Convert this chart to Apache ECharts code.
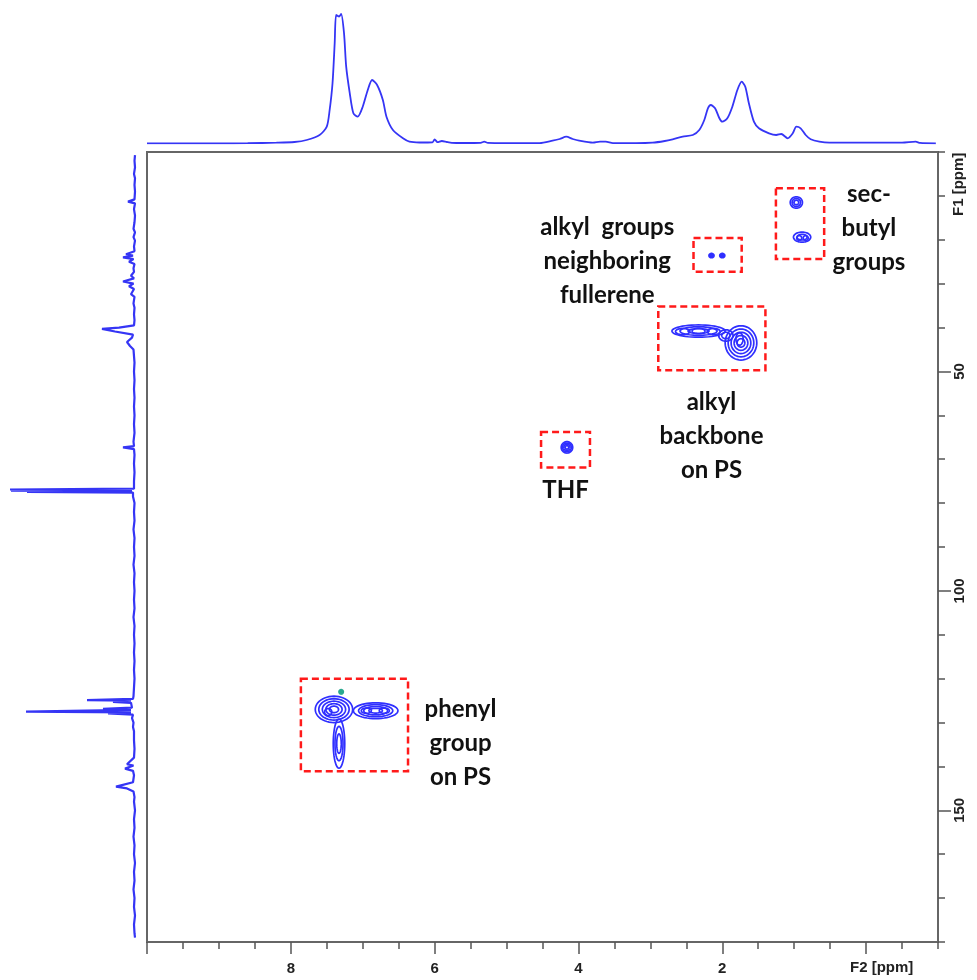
<!DOCTYPE html>
<html><head><meta charset="utf-8">
<script src="https://cdn.jsdelivr.net/npm/echarts@6/dist/echarts.min.js"></script>
<style>html,body{margin:0;padding:0;background:#fff}#c{width:977px;height:980px}</style>
</head><body><div id="c"></div>
<script>
// ---- 1H projection (top): [ppm, intensity]
const topProjection = [
 [10.0,0.2],[9.5,0.2],[9.0,0.2],[8.6,0.3],[8.2,0.8],[7.95,1.5],[7.78,3.5],[7.6,8.5],[7.5,16.8],[7.46,33.5],
 [7.42,60.2],[7.39,100.2],[7.37,128.5],[7.33,127],[7.30,129.5],[7.26,110.2],[7.23,76.8],[7.18,50.2],[7.13,30.2],[7.07,26.8],
 [7.00,36.8],[6.93,53.5],[6.87,63.5],[6.80,58.5],[6.72,43.5],[6.67,26.8],[6.58,13.5],[6.44,5.2],[6.35,1.8],[6.21,1.0],
 [6.03,1.2],[6.00,4.2],[5.96,1.3],[5.90,2.5],[5.83,1.5],[5.76,0.7],[5.6,0.5],[5.36,0.7],[5.31,1.8],[5.26,0.6],
 [5.0,0.4],[4.54,0.4],[4.36,2.8],[4.26,4.5],[4.17,6.8],[4.08,4.5],[3.99,2.8],[3.80,0.8],[3.70,1.8],[3.62,1.8],
 [3.52,0.3],[3.2,0.3],[2.97,0.8],[2.80,2.5],[2.69,4.2],[2.55,6.8],[2.41,8.5],[2.32,13.5],[2.25,23.5],[2.20,35.2],
 [2.16,38.5],[2.10,35.2],[2.04,25.2],[2.00,21.8],[1.93,25.2],[1.86,36.8],[1.79,53.5],[1.73,61.8],[1.68,56.8],[1.63,40.2],
 [1.56,21.8],[1.49,15.2],[1.35,10.2],[1.25,8.5],[1.18,9.5],[1.09,5.2],[1.02,10.2],[0.97,16.8],[0.91,15.2],[0.84,8.5],
 [0.77,4.2],[0.65,1.8],[0.51,0.8],[0.0,0.8],[-0.5,0.8],[-0.69,1.8],[-0.75,0.6],[-0.97,0.2]
];
// ---- 13C projection (left): [ppm, intensity]
const leftProjection = [
 [0.7,0],[2,0.5],[3.5,0],[5,1],[6,0],[7.5,0.5],[9,0],[10.8,0.5],[11.3,7],[11.7,0],[13,1],[14.5,0],[16,0.5],[17.5,1.5],[18.3,0],
 [19.4,1.5],[20.2,0],[21.5,1],[22.6,0.5],[23.3,9],[23.6,2],[24.0,12],[24.4,1.5],[25.0,6],[25.5,0.5],[26.5,1.5],[27.3,1],[28.2,4],
 [28.8,1],[29.5,12],[30,1.5],[30.6,6],[31.2,1],[32.4,4],[33,0.5],[34.5,1.5],[35.5,0.5],[37,1],[38.3,0.5],[39.5,1],[40.0,16],
 [40.3,33],[40.7,33],[40.9,20],[41.3,20],[41.6,2],[42.3,3],[43.3,8],[44.2,5],[45,1.5],[46.5,1],[48,0.5],[50,1],[52,0.5],
 [54,1],[56,0.5],[58,1],[60,0.5],[62,1],[64,0.5],[66,1.5],[67.0,1],[67.3,12],[67.7,1],[69,0.5],[71,1],[73,0.5],[75,1],[76.7,1],
 [76.9,125],[77.0,3],[77.15,124],[77.25,3],[77.45,108],[77.6,2],[78.5,2],[80,0.5],[82,1],[84,0.5],[86,1.5],[88,0.5],[90,1],
 [92,0.5],[94,1.5],[96,0.5],[98,1],[100,0.5],[102,1],[104,0.5],[106,1.5],[108,0.5],[110,1],[112,0.5],[114,1],[116,0.5],[118,1],[120,0.5],
 [122,1],[124,1.5],[124.6,2],[124.9,48],[125.0,4],[125.3,22],[125.5,4],[126.6,3],[126.9,32],[127.1,4],[127.5,109],
 [127.7,4],[127.9,27],[128.2,2],[129,3],[130,1.5],[131,2],[132,1],[134,1],[136,0.5],[138,1],[139.5,8],[139.8,1.5],[140.5,10],
 [141,2],[142,1],[143.6,2],[144.3,14],[144.6,19],[145.0,8],[145.7,1.5],[147,0.5],[148,1],[150,0],[152,1],[154,0.5],[156,1.5],
 [158,0.5],[160,1],[162,0],[164,1],[166,0.5],[168,1.5],[170,0.5],[172,1],[174,0],[176,1],[178,0.5],[179,0]
];
// ---- 2D cross peaks: [F2 ppm, F1 ppm, half-width F2 (ppm), half-width F1 (ppm), contour levels, filled]
const crossPeaks = [
 [0.97,11.5,0.085,1.3,3,0],
 [0.89,19.4,0.12,1.15,2,0],[0.93,19.6,0.035,0.55,1,0],[0.84,19.6,0.035,0.55,1,0],
 [2.15,23.6,0.035,0.5,1,1],[2.00,23.6,0.035,0.5,1,1],
 [4.16,67.3,0.08,1.3,4,0],
 [1.74,43.5,0.22,3.9,5,0],[1.76,42.6,0.05,1.4,1,0],
 [2.33,40.8,0.37,1.4,3,0],[2.55,40.9,0.1,0.7,1,0],[2.33,40.8,0.09,0.6,1,0],[2.12,40.9,0.09,0.7,1,0],[1.95,41.8,0.1,1.3,2,0],
 [7.40,127.0,0.26,3.0,5,0],[6.82,127.3,0.31,1.8,4,0],[7.33,134.8,0.08,5.6,3,0],
 [6.95,127.3,0.07,0.6,1,0],[6.70,127.3,0.07,0.6,1,0],[7.48,127.6,0.05,0.8,1,0]
];
const minorPeaks = [[7.30,123.0,0.03,0.5,1,1]];
// ---- annotation boxes: [F2 from, F2 to, F1 from, F1 to]
const regionBoxes = [
 [1.254,0.583,8.25,24.4],
 [2.40,1.73,19.6,27.3],
 [2.89,1.40,35.2,49.7],
 [4.52,3.84,63.8,71.9],
 [7.86,6.37,120.0,141.1]
];
// ---- annotation labels: [F2 ppm, F1 ppm, text]
const annotations = [
 [-0.04,17.3,'sec-\nbutyl\ngroups'],
 [3.60,25.0,'alkyl  groups\nneighboring\nfullerene'],
 [2.15,64.8,'alkyl\nbackbone\non PS'],
 [4.18,77.0,'THF'],
 [5.64,134.8,'phenyl\ngroup\non PS']
];
const f2Labels = [8,6,4,2];
const f2Major = [10,8,6,4,2,0];
const f1Labels = [50,100,150];

const SPEC = '#3535f5';
const CONT = '#2f2fff';
const TICKFONT = "'Liberation Sans Narrow','Liberation Sans',Arial,sans-serif";

function ellipsePts(cx, cy, rx, ry){
  const pts=[]; for(let i=0;i<48;i++){const t=i/48*2*Math.PI; pts.push([cx+rx*Math.cos(t), cy+ry*Math.sin(t)]);} return pts;
}
function contourRender(color){
  return function(params, api){
    const c = api.coord([api.value(0), api.value(1)]);
    const s = api.size([api.value(2), api.value(3)]);
    const rx = Math.abs(s[0]), ry = Math.abs(s[1]);
    const n = api.value(4), filled = api.value(5);
    const children=[];
    for(let k=0;k<n;k++){
      const f = 1 - k/(n+0.3);
      children.push({type:'polygon', shape:{points: ellipsePts(c[0],c[1],rx*f,ry*f)},
        style:{fill: filled ? color : 'none', stroke: color, lineWidth: 1.7}});
    }
    return {type:'group', children};
  };
}

const chart = echarts.init(document.getElementById('c'), null, {renderer:'canvas'});
chart.setOption({
  animation:false,
  backgroundColor:'#fff',
  grid:[
    {left:147, top:152, width:791, height:790, show:true, borderColor:'#666', borderWidth:2, backgroundColor:'transparent'},
    {left:147, top:4, width:791, height:139.5},
    {left:5, top:152, width:130, height:790},
    {left:147, top:152, width:791, height:790}
  ],
  xAxis:[
    {gridIndex:0, type:'value', min:-1, max:10, inverse:true, interval:0.5, position:'bottom',
     axisLine:{show:true, onZero:false, lineStyle:{color:'#666', width:2}},
     axisTick:{show:true, length:7, lineStyle:{color:'#555', width:1.5}},
     axisLabel:{show:true, margin:19, formatter:v=> f2Labels.indexOf(v)>=0 ? String(v) : '',
       fontFamily:TICKFONT, fontWeight:'bold', fontSize:15, color:'#222'},
     splitLine:{show:false}},
    {gridIndex:1, type:'value', min:-1, max:10, inverse:true, show:false},
    {gridIndex:2, type:'value', min:0, max:130, inverse:true, show:false},
    {gridIndex:3, type:'value', min:-1, max:10, inverse:true, position:'bottom',
     axisLine:{show:false, onZero:false}, axisTick:{show:true, length:12, customValues:f2Major, lineStyle:{color:'#555', width:1.5}},
     axisLabel:{show:false}, splitLine:{show:false}}
  ],
  yAxis:[
    {gridIndex:0, type:'value', min:0, max:180, inverse:true, interval:10, position:'right',
     axisLine:{show:true, onZero:false, lineStyle:{color:'#666', width:2}},
     axisTick:{show:true, length:7, lineStyle:{color:'#555', width:1.5}},
     axisLabel:{show:true, rotate:90, margin:14, formatter:v=> f1Labels.indexOf(v)>=0 ? String(v) : '',
       fontFamily:TICKFONT, fontWeight:'bold', fontSize:15, color:'#222'},
     splitLine:{show:false}},
    {gridIndex:1, type:'value', min:0, max:139.5, show:false},
    {gridIndex:2, type:'value', min:0, max:180, inverse:true, show:false},
    {gridIndex:3, type:'value', min:0, max:180, inverse:true, position:'right',
     axisLine:{show:false, onZero:false}, axisTick:{show:true, length:13, customValues:f1Labels, lineStyle:{color:'#555', width:1.5}},
     axisLabel:{show:false}, splitLine:{show:false}}
  ],
  graphic:[
    {type:'text', left:850, top:960, style:{text:'F2 [ppm]', font:"bold 15px "+TICKFONT, fill:'#222'}},
    {type:'text', x:951, y:216, rotation:Math.PI/2, style:{text:'F1 [ppm]', font:"bold 15px "+TICKFONT, fill:'#222'}}
  ],
  series:[
    {type:'line', xAxisIndex:1, yAxisIndex:1, data:topProjection, showSymbol:false, smooth:0.25,
     lineStyle:{color:SPEC, width:1.8}, silent:true},
    {type:'line', xAxisIndex:2, yAxisIndex:2, data:leftProjection.map(d=>[d[1], d[0]]), showSymbol:false,
     lineStyle:{color:SPEC, width:2.2}, silent:true},
    {type:'custom', xAxisIndex:0, yAxisIndex:0, data:regionBoxes, silent:true,
     renderItem:function(params, api){
       const a = api.coord([api.value(0), api.value(2)]);
       const b = api.coord([api.value(1), api.value(3)]);
       return {type:'rect', shape:{x:Math.min(a[0],b[0]), y:Math.min(a[1],b[1]), width:Math.abs(b[0]-a[0]), height:Math.abs(b[1]-a[1])},
         style:{fill:'none', stroke:'#ff1a1a', lineWidth:2.5, lineDash:[7,4]}};
     }},
    {type:'custom', xAxisIndex:0, yAxisIndex:0, data:crossPeaks, silent:true, renderItem:contourRender(CONT)},
    {type:'custom', xAxisIndex:0, yAxisIndex:0, data:minorPeaks, silent:true, renderItem:contourRender('#2aa890')},
    {type:'custom', xAxisIndex:0, yAxisIndex:0, data:annotations, silent:true,
     renderItem:function(params, api){
       const p = api.coord([api.value(0), api.value(1)]);
       return {type:'text', x:p[0], y:p[1],
         style:{text: annotations[params.dataIndex][2], align:'center', verticalAlign:'middle',
           fontFamily:"Lato, 'Open Sans', sans-serif", fontWeight:'bold', fontSize:24, lineHeight:34, fill:'#111'}};
     }}
  ]
});
</script></body></html>
